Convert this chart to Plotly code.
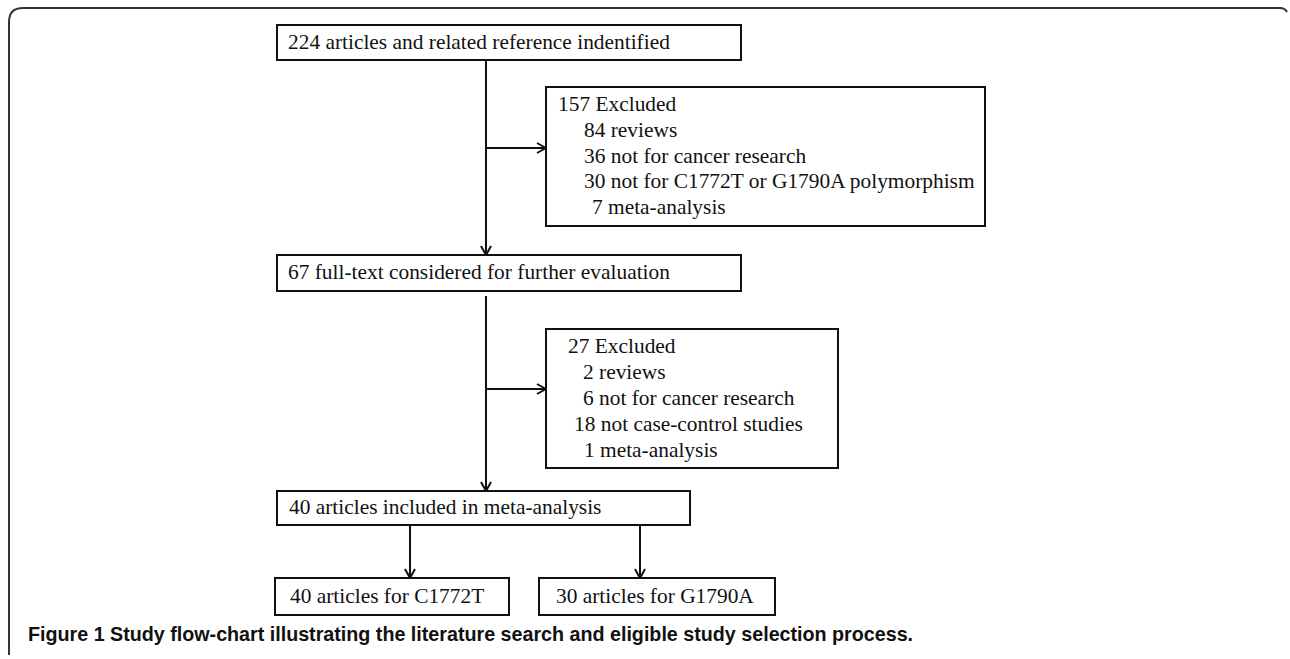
import plotly.graph_objects as go

# ---- content (text of the flow chart) ----
box1_text = ["224 articles and related reference indentified"]
box2_text = ["157 Excluded", "84 reviews", "36 not for cancer research",
             "30 not for C1772T or G1790A polymorphism", "7 meta-analysis"]
box3_text = ["67 full-text considered for further evaluation"]
box4_text = ["27 Excluded", "2 reviews", "6 not for cancer research",
             "18 not case-control studies", "1 meta-analysis"]
box5_text = ["40 articles included in meta-analysis"]
box6_text = ["40 articles for C1772T"]
box7_text = ["30 articles for G1790A"]
caption = "Figure 1 Study flow-chart illustrating the literature search and eligible study selection process."

# ---- layout geometry (pixels) ----
W, H = 1290, 659
boxes = {
    "b1": dict(x0=277, y0=25, x1=741, y1=60, lines=box1_text, tx=[286], ty0=42, dy=0),
    "b2": dict(x0=546, y0=87, x1=985, y1=226, lines=box2_text, tx=[556, 582, 582, 582, 590], ty0=104, dy=25.8),
    "b3": dict(x0=277, y0=255, x1=741, y1=291, lines=box3_text, tx=[286], ty0=272, dy=0),
    "b4": dict(x0=546, y0=329, x1=838, y1=468, lines=box4_text, tx=[566, 581, 581, 572, 582], ty0=346, dy=26),
    "b5": dict(x0=277, y0=491, x1=690, y1=525, lines=box5_text, tx=[287], ty0=507, dy=0),
    "b6": dict(x0=275, y0=578, x1=509, y1=615, lines=box6_text, tx=[288], ty0=596, dy=0),
    "b7": dict(x0=539, y0=578, x1=775, y1=615, lines=box7_text, tx=[554], ty0=596, dy=0),
}
trunk_x = 486
LINE = "#111111"
FS = 21.4

fig = go.Figure()
shapes = []
annotations = []

for b in boxes.values():
    shapes.append(dict(type="rect", x0=b["x0"], y0=b["y0"], x1=b["x1"], y1=b["y1"],
                       line=dict(color=LINE, width=2), fillcolor="white", layer="above"))
    for i, t in enumerate(b["lines"]):
        annotations.append(dict(x=b["tx"][i], y=b["ty0"] + i * b["dy"], text=t, showarrow=False,
                                xanchor="left", yanchor="middle", xref="x", yref="y",
                                font=dict(family="Liberation Serif, Times New Roman, serif", size=FS, color="#111")))


def seg(x0, y0, x1, y1):
    shapes.append(dict(type="line", x0=x0, y0=y0, x1=x1, y1=y1, line=dict(color=LINE, width=2)))


def arrow(x0, y0, x1, y1):
    seg(x0, y0, x1, y1)
    L, Wd = 9, 5
    if x0 == x1:  # vertical downward
        seg(x1, y1, x1 - Wd, y1 - L)
        seg(x1, y1, x1 + Wd, y1 - L)
    else:  # horizontal rightward
        seg(x1, y1, x1 - L, y1 - Wd)
        seg(x1, y1, x1 - L, y1 + Wd)


b1, b2, b3, b4, b5, b6, b7 = (boxes[k] for k in ["b1", "b2", "b3", "b4", "b5", "b6", "b7"])
arrow(trunk_x, b1["y1"], trunk_x, b3["y0"])
arrow(trunk_x, 148, b2["x0"], 148)
arrow(trunk_x, b3["y1"] + 5, trunk_x, b5["y0"])
arrow(trunk_x, 389, b4["x0"], 389)
arrow(410, b5["y1"], 410, b6["y0"])
arrow(640, b5["y1"], 640, b7["y0"])

# outer frame
shapes.append(dict(type="path", path="M 9,655 L 9,22 Q 9,8 23,8 L 1280,8 Q 1285,8 1287,12",
                   line=dict(color="#333", width=2)))

annotations.append(dict(x=26, y=634, text=caption, showarrow=False, xanchor="left", yanchor="middle",
                        xref="x", yref="y",
                        font=dict(family="Liberation Sans, Arial, sans-serif", size=19.7, color="#111",
                                  weight="bold")))

fig.update_layout(width=W, height=H, margin=dict(l=0, r=0, t=0, b=0),
                  paper_bgcolor="white", plot_bgcolor="white",
                  xaxis=dict(range=[0, W], visible=False, fixedrange=True),
                  yaxis=dict(range=[H, 0], visible=False, fixedrange=True),
                  shapes=shapes, annotations=annotations, showlegend=False)
fig.write_html("out.html", config={"displayModeBar": False},
               post_script="document.body.style.margin='0';document.body.style.overflow='hidden';")
